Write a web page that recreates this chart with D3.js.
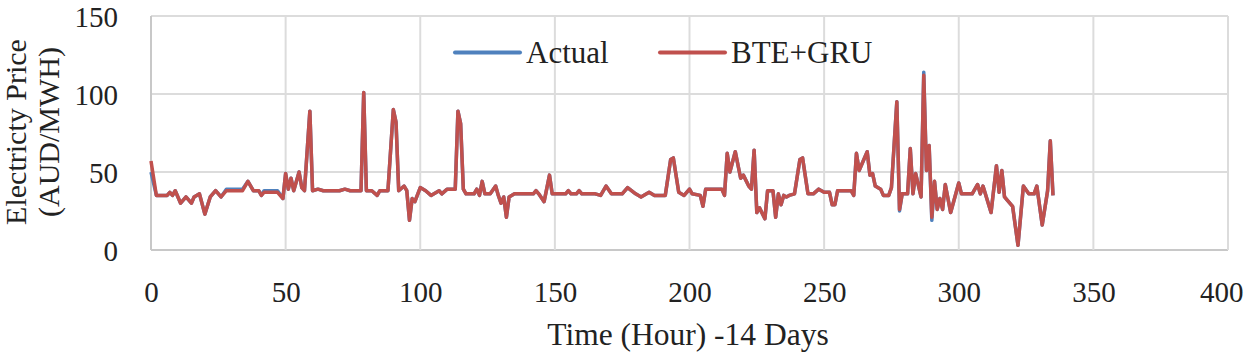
<!DOCTYPE html>
<html>
<head>
<meta charset="utf-8">
<script src="https://cdn.jsdelivr.net/npm/d3@7"></script>
<style>
  body { margin: 0; background: #fff; }
  text { font-family: "Liberation Serif", "Times New Roman", serif; fill: #222; }
</style>
</head>
<body>
<div id="chart"></div>
<script>
// hour index of each vertex
const hours = [0, 2, 6, 7, 8, 9, 11, 13, 15, 16, 18, 20, 22, 24, 26, 28, 34, 36, 38, 40,
  41, 42, 47, 49, 50, 51, 52, 53, 55, 56, 57, 59, 60, 62, 64, 70, 72, 74, 78, 79,
  80, 82, 84, 85, 88, 90, 91, 92, 94, 95, 96, 97, 98, 100, 102, 104, 107, 108, 110, 113,
  114, 115, 116, 117, 120, 121, 122, 123, 124, 126, 128, 129, 130, 131, 132, 133, 135, 142, 143, 144,
  146, 148, 149, 154, 155, 156, 158, 159, 160, 165, 167, 169, 171, 175, 177, 180, 182, 185, 187, 191,
  193, 194, 196, 198, 200, 201, 204, 205, 206, 212, 213, 214, 215, 217, 219, 220, 222, 223, 224, 225,
  226, 228, 229, 231, 232, 233, 234, 235, 236, 237, 239, 241, 242, 244, 246, 248, 250, 252, 253, 254,
  255, 260, 261, 262, 263, 266, 267, 268, 269, 271, 272, 274, 275, 277, 278, 279, 281, 282, 283, 284,
  286, 287, 288, 289, 290, 291, 292, 293, 294, 295, 297, 300, 301, 305, 307, 308, 309, 312, 314, 315,
  316, 317, 318, 320, 322, 324, 326, 328, 329, 331, 333, 334, 335];

const bteGru = [57, 35, 35, 37, 35, 38, 30, 34, 30, 34, 36, 23, 34, 38, 34, 38, 38, 44, 38, 38,
  35, 37, 37, 33, 49, 39, 46, 38, 50, 40, 38, 89, 38, 39, 38, 38, 39, 38, 38, 101,
  38, 38, 35, 38, 38, 90, 82, 38, 41, 38, 19, 33, 31, 40, 38, 35, 38, 36, 39, 39,
  89, 81, 39, 36, 36, 39, 35, 44, 36, 36, 41, 35, 30, 34, 21, 34, 36, 36, 38, 36,
  31, 48, 36, 36, 38, 36, 36, 38, 36, 36, 35, 41, 36, 36, 40, 36, 34, 37, 35, 35,
  58, 59, 37, 35, 39, 36, 35, 28, 39, 39, 35, 62, 50, 63, 46, 48, 41, 39, 64, 24,
  27, 20, 38, 38, 21, 36, 29, 35, 34, 35, 36, 58, 59, 36, 36, 39, 37, 37, 29, 29,
  38, 38, 35, 62, 51, 63, 48, 49, 41, 39, 35, 35, 40, 95, 26, 36, 36, 65, 36, 49,
  34, 112, 51, 67, 21, 44, 26, 33, 26, 42, 24, 43, 36, 36, 42, 36, 41, 24, 54, 37,
  51, 34, 32, 28, 3, 41, 36, 36, 41, 16, 38, 70, 35];

const actual = [50, 35, 35, 37, 35, 38, 30, 34, 30, 34, 36, 23, 34, 38, 34, 39, 39, 44, 38, 38,
  35, 38, 38, 33, 49, 39, 46, 38, 50, 40, 38, 89, 38, 39, 38, 38, 39, 38, 38, 101,
  38, 38, 35, 38, 38, 90, 82, 38, 41, 38, 19, 33, 31, 40, 38, 35, 38, 36, 39, 39,
  89, 81, 39, 36, 36, 39, 35, 44, 36, 36, 41, 35, 30, 34, 21, 34, 36, 36, 38, 36,
  31, 48, 36, 36, 38, 36, 36, 38, 36, 36, 35, 41, 36, 36, 40, 36, 34, 37, 35, 35,
  58, 59, 37, 35, 39, 36, 35, 28, 39, 39, 35, 62, 50, 63, 46, 48, 41, 39, 64, 24,
  27, 20, 38, 38, 21, 36, 29, 35, 34, 35, 36, 58, 59, 36, 36, 39, 37, 37, 29, 29,
  38, 38, 35, 62, 51, 63, 48, 49, 41, 39, 35, 35, 40, 95, 25, 36, 36, 65, 36, 49,
  34, 114, 51, 67, 19, 44, 26, 33, 26, 42, 24, 43, 36, 36, 42, 36, 41, 24, 54, 37,
  51, 34, 32, 28, 3, 41, 36, 36, 41, 16, 38, 70, 35];

const xTicks = [0, 50, 100, 150, 200, 250, 300, 350, 400];
const yTicks = [0, 50, 100, 150];
const seriesNames = ["Actual", "BTE+GRU"];
const seriesColors = ["#4f81bd", "#c0504d"];

// dimensions
const W = 1245, H = 356;
const margin = { top: 16, right: 17, bottom: 106, left: 151 };
const width = W - margin.left - margin.right,
  height = H - margin.top - margin.bottom;

const svg = d3.select("#chart")
  .append("svg")
  .attr("width", W)
  .attr("height", H)
  .append("g")
  .attr("transform", `translate(${margin.left},${margin.top})`);

const x = d3.scaleLinear().domain([0, 400]).range([0, width]);
const y = d3.scaleLinear().domain([0, 150]).range([height, 0]);

// gridlines
svg.append("g")
  .selectAll("line")
  .data(yTicks)
  .join("line")
  .attr("x1", 0).attr("x2", width)
  .attr("y1", d => y(d)).attr("y2", d => y(d))
  .attr("stroke", d => d === 0 ? "#c8c8c8" : "#dcdcdc")
  .attr("stroke-width", 2);

svg.append("g")
  .selectAll("line")
  .data(xTicks)
  .join("line")
  .attr("y1", 0).attr("y2", height)
  .attr("x1", d => x(d)).attr("x2", d => x(d))
  .attr("stroke", d => d === 0 ? "#c8c8c8" : "#dcdcdc")
  .attr("stroke-width", 2);

// axes (labels only)
const xAxis = svg.append("g")
  .attr("transform", `translate(0,${height})`)
  .call(d3.axisBottom(x).tickValues(xTicks).tickSize(0).tickPadding(31));
const yAxis = svg.append("g")
  .call(d3.axisLeft(y).tickValues(yTicks).tickSize(0).tickPadding(33));
[xAxis, yAxis].forEach(a => {
  a.select(".domain").remove();
  a.selectAll("text")
    .style("font-family", "'Liberation Serif', serif")
    .style("font-size", "29px")
    .attr("fill", "#222");
});
yAxis.selectAll("text").attr("dy", "0.35em");
// last label sits inside the page edge
xAxis.selectAll(".tick text")
  .filter(d => d === 400)
  .attr("text-anchor", "end")
  .attr("x", 15);

// lines
const line = d3.line()
  .x((d, i) => x(hours[i]))
  .y(d => y(d));

[actual, bteGru].forEach((vals, k) => {
  svg.append("path")
    .datum(vals)
    .attr("fill", "none")
    .attr("stroke", seriesColors[k])
    .attr("stroke-width", 3.5)
    .attr("stroke-linejoin", "round")
    .attr("d", line);
});

// legend
const legend = svg.append("g");
const legX = [304, 509];
seriesNames.forEach((name, k) => {
  const g = legend.append("g").attr("transform", `translate(${legX[k]},${36.5})`);
  g.append("line")
    .attr("x1", 0).attr("x2", 65)
    .attr("y1", 0).attr("y2", 0)
    .attr("stroke", seriesColors[k])
    .attr("stroke-width", 4)
    .attr("stroke-linecap", "round");
  g.append("text")
    .attr("x", 71)
    .attr("y", 0)
    .attr("dy", "0.35em")
    .style("font-size", "31px")
    .text(name);
});

// axis titles
svg.append("text")
  .attr("x", width / 2 - 1.5)
  .attr("y", height + 95)
  .attr("text-anchor", "middle")
  .style("font-size", "31.5px")
  .text("Time (Hour) -14 Days");

const yTitle = svg.append("text")
  .attr("transform", `translate(${-125},${height / 2 - 1}) rotate(-90)`)
  .attr("text-anchor", "middle")
  .style("font-size", "30px");
yTitle.append("tspan").attr("x", 0).attr("dy", 0).text("Electricty Price");
yTitle.append("tspan").attr("x", 0).attr("dy", 33).text("(AUD/MWH)");
</script>
</body>
</html>
